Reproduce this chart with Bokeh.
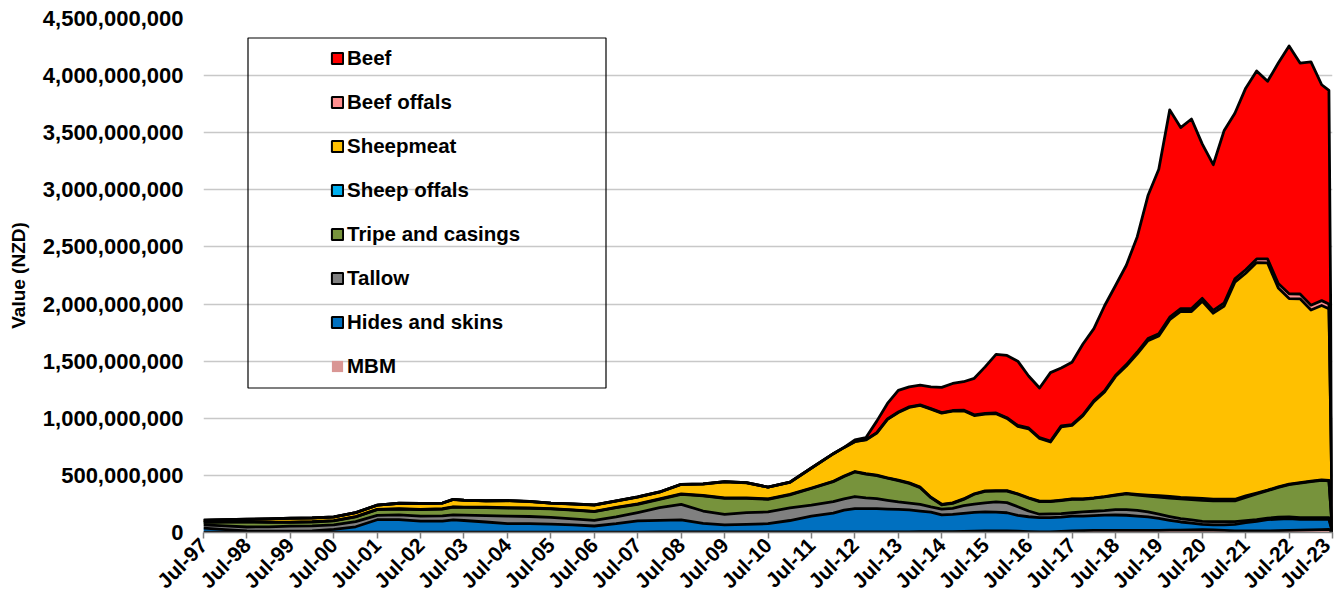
import math
import datetime as dt
import pandas as pd
from bokeh.plotting import figure
from bokeh.models import (ColumnDataSource, Range1d, FixedTicker, DatetimeTickFormatter,
                          NumeralTickFormatter, SingleIntervalTicker, Legend, LegendItem, BoxAnnotation)
from bokeh.embed import file_html
from bokeh.resources import INLINE

# ---------------- data (values in NZD millions) ----------------
dates = [
    "1997-07", "1998-01", "1998-07", "1999-01", "1999-07", "2000-01", "2000-07", "2001-01",
    "2001-07", "2002-01", "2002-07", "2003-01", "2003-04", "2003-07", "2004-01", "2004-07",
    "2005-01", "2005-07", "2006-01", "2006-07", "2007-01", "2007-07", "2008-01", "2008-07",
    "2009-01", "2009-07", "2010-01", "2010-07", "2011-01", "2011-07", "2012-01",
    "2012-04", "2012-07", "2012-10",
    "2013-01", "2013-04", "2013-07", "2013-10",
    "2014-01", "2014-04", "2014-07", "2014-10",
    "2015-01", "2015-04", "2015-07", "2015-10",
    "2016-01", "2016-04", "2016-07", "2016-10",
    "2017-01", "2017-04", "2017-07", "2017-10",
    "2018-01", "2018-04", "2018-07", "2018-10",
    "2019-01", "2019-04", "2019-07", "2019-10",
    "2020-01", "2020-04", "2020-07", "2020-10",
    "2021-01", "2021-04", "2021-07", "2021-10",
    "2022-01", "2022-04", "2022-07", "2022-10",
    "2023-01", "2023-04", "2023-06", "2023-07",
]

mbm = [3, 3, 3, 3, 3, 3, 3, 3, 4, 4, 4, 4, 4, 4, 4, 4, 4, 4, 4, 4, 4, 4, 5, 5, 5, 5, 5, 5, 5, 5, 5,
       5, 5, 5, 5, 5, 6, 6, 7, 7, 7, 8, 10, 12, 14, 14, 14, 12, 8, 5, 5, 10, 15, 17, 18, 18, 18, 18,
       18, 19, 19, 20, 21, 22, 24, 22, 18, 15, 13, 13, 14, 16, 18, 20, 23, 26, 28, 0]

hides = [35, 22, 10, 9, 9, 12, 25, 47, 108, 108, 96, 96, 106, 101, 88, 73, 73, 70, 62, 53, 73, 97,
         102, 105, 75, 61, 67, 72, 100, 138, 165,
         190, 204, 204, 204, 200, 197, 192, 181, 171, 148, 150, 158, 164, 166, 164, 159, 138, 130,
         125, 125, 125, 129, 127, 129, 134, 135, 133, 126, 117, 105, 87, 71, 61, 48, 44, 48, 57,
         73, 85, 98, 102, 103, 95, 92, 89, 87, 0]

tallow = [28, 33, 35, 38, 43, 43, 38, 45, 38, 43, 44, 45, 45, 47, 56, 67, 63, 59, 54, 50, 59, 73,
          110, 137, 108, 93, 102, 103, 110, 97, 100,
          100, 106, 94, 88, 77, 65, 60, 59, 47, 50, 54, 67, 72, 80, 90, 89, 76, 50, 30, 33, 31, 29,
          36, 39, 40, 48, 49, 50, 44, 36, 33, 30, 27, 26, 29, 29, 23, 18, 14, 13, 16, 15, 15, 15,
          15, 15, 0]

tripe = [22, 32, 44, 38, 33, 34, 35, 41, 50, 50, 56, 60, 67, 68, 70, 70, 72, 73, 75, 75, 81, 73,
         74, 87, 132, 140, 125, 111, 115, 145, 175,
         195, 215, 209, 201, 193, 187, 172, 146, 80, 38, 43, 55, 87, 100, 95, 101, 109, 112, 110,
         107, 114, 118, 111, 114, 119, 124, 138, 134, 138, 150, 161, 172, 179, 184, 183, 181, 182,
         204, 226, 241, 261, 284, 303, 315, 327, 322, 0]

sheep_offals = [3, 3, 3, 3, 3, 3, 3, 3, 3, 3, 3, 3, 3, 3, 3, 3, 3, 3, 3, 3, 3, 3, 4, 4, 4, 4, 4, 4,
                4, 4, 4,
                4, 4, 4, 4, 4, 4, 4, 4, 4, 4, 4, 4, 4, 4, 4, 4, 4, 4, 4, 4, 4, 4, 4, 4, 4, 4, 4,
                6, 10, 12, 14, 14, 15, 16, 15, 15, 14, 12, 8, 5, 4, 4, 4, 4, 4, 4, 0]

sheepmeat = [16, 18, 20, 28, 33, 32, 31, 34, 36, 47, 50, 49, 64, 59, 56, 62, 56, 48, 51, 55, 55,
             60, 59, 83, 100, 141, 132, 102, 105, 175, 240,
             249, 261, 294, 368, 511, 591, 661, 715, 771, 798, 803, 772, 685, 672, 674, 632, 591,
             604, 549, 518, 641, 642, 727, 841, 915, 1036, 1116, 1231, 1352, 1398, 1548, 1627,
             1631, 1727, 1627, 1692, 1901, 1950, 2017, 1989, 1741, 1624, 1609, 1499, 1527, 1502, 0]

beef_offals = [1, 1, 1, 1, 1, 1, 1, 1, 1, 1, 1, 1, 1, 1, 1, 1, 1, 1, 1, 1, 1, 1, 1, 1, 1, 1, 1, 1,
               1, 1, 1,
               2, 2, 3, 4, 4, 5, 5, 5, 5, 5, 6, 6, 6, 6, 6, 6, 7, 7, 7, 8, 8, 8, 8, 10, 10, 10, 12,
               15, 18, 20, 22, 25, 25, 25, 25, 27, 28, 30, 32, 35, 40, 42, 42, 42, 42, 42, 0]

beef = [0, 0, 0, 0, 0, 0, 0, 0, 0, 0, 0, 0, 0, 0, 0, 0, 0, 0, 0, 0, 0, 0, 0, 0, 0, 0, 0, 0, 0, 0, 0,
        0, 13, 17, 101, 136, 190, 175, 173, 190, 220, 237, 248, 320, 408, 513, 545, 563, 455, 435,
        600, 507, 545, 620, 630, 745, 785, 870, 1010, 1252, 1440, 1815, 1585, 1660, 1350, 1275,
        1510, 1450, 1590, 1645, 1555, 1930, 2170, 2022, 2130, 1890, 1870, 0]

series_names = ["MBM", "Hides and skins", "Tallow", "Tripe and casings",
                "Sheep offals", "Sheepmeat", "Beef offals", "Beef"]
series_values = [mbm, hides, tallow, tripe, sheep_offals, sheepmeat, beef_offals, beef]
colors = ["#D99694", "#0070C0", "#808080", "#77933C", "#00B0F0", "#FFC000", "#FF8F8F", "#FF0000"]
outlined = [False, True, True, True, True, True, True, True]
tick_years = list(range(1997, 2024))

# ---------------- build ----------------
keys = ["s%d" % i for i in range(len(series_names))]
data = {"date": pd.to_datetime(dates, format="%Y-%m")}
for k, vals in zip(keys, series_values):
    data[k] = [v * 1e6 for v in vals]
source = ColumnDataSource(data)

FONT = "Liberation Sans"

p = figure(width=1334, height=603, x_axis_type="datetime",
           x_range=Range1d(dt.datetime(1997, 7, 1), dt.datetime(2023, 7, 1)),
           y_range=Range1d(0, 4.5e9),
           output_backend="svg", toolbar_location=None,
           min_border_left=203, min_border_right=2, min_border_top=18, min_border_bottom=71)

p.varea_stack(stackers=keys, x="date", source=source, color=colors)
p.vline_stack(stackers=keys, x="date", source=source, line_color="black",
              line_width=2.8, line_join="round")

# axes
ticks = [dt.datetime(y, 7, 1).timestamp() * 1000 for y in tick_years]
p.xaxis.ticker = FixedTicker(ticks=ticks)
p.xaxis.formatter = DatetimeTickFormatter(years="%b-%y", months="%b-%y", days="%b-%y",
                                          hours="%b-%y", minutes="%b-%y", seconds="%b-%y",
                                          milliseconds="%b-%y", microseconds="%b-%y",
                                          hourmin="%b-%y", minsec="%b-%y", context=None)
p.xaxis.major_label_orientation = math.pi / 4
p.xaxis.major_label_text_font = FONT
p.xaxis.major_label_text_font_style = "bold"
p.xaxis.major_label_text_font_size = "21px"
p.xaxis.major_label_text_color = "black"
p.xaxis.axis_line_color = "#7f7f7f"
p.xaxis.axis_line_width = 1.5
p.xaxis.major_tick_line_color = "#7f7f7f"
p.xaxis.major_tick_line_width = 1.5
p.xaxis.major_tick_out = 6
p.xaxis.major_tick_in = 0
p.xaxis.minor_tick_line_color = None
p.xaxis.major_label_standoff = 3

p.yaxis.ticker = SingleIntervalTicker(interval=5e8)
p.yaxis.formatter = NumeralTickFormatter(format="0,0")
p.yaxis.major_label_text_font = FONT
p.yaxis.major_label_text_font_style = "bold"
p.yaxis.major_label_text_font_size = "22px"
p.yaxis.major_label_text_color = "black"
p.yaxis.axis_line_color = None
p.yaxis.major_tick_line_color = None
p.yaxis.minor_tick_line_color = None
p.yaxis.major_tick_out = 0
p.yaxis.major_tick_in = 0
p.yaxis.minor_tick_out = 0
p.yaxis.minor_tick_in = 0
p.yaxis.major_label_standoff = 20
p.yaxis.axis_label = "Value (NZD)"
p.yaxis.axis_label_text_font = FONT
p.yaxis.axis_label_text_font_style = "bold"
p.yaxis.axis_label_text_font_size = "19px"
p.yaxis.axis_label_text_color = "black"
p.yaxis.axis_label_standoff = 11

p.xgrid.visible = False
p.ygrid.grid_line_color = "#c8c8c8"
p.ygrid.grid_line_width = 1.5
p.outline_line_color = None

# legend (proxy glyphs with no visible data, only used for the legend swatches)
nan = float("nan")
items = []
for name, col, ol in reversed(list(zip(series_names, colors, outlined))):
    r = p.quad(left=[nan], right=[nan], top=[nan], bottom=[nan], fill_color=col,
               line_color="black" if ol else None, line_width=2)
    items.append(LegendItem(label=name, renderers=[r], index=0))
legend = Legend(items=items, location=(127, 154), glyph_width=14, glyph_height=14,
                label_height=24, spacing=20, padding=9, margin=0, label_standoff=3,
                border_line_color=None, background_fill_alpha=0,
                label_text_font=FONT, label_text_font_style="bold", label_text_font_size="20.5px",
                label_text_color="black")
p.add_layout(legend)

box = BoxAnnotation(left=247.5, right=605.5, top=37.5, bottom=387.5,
                    left_units="canvas", right_units="canvas", top_units="canvas", bottom_units="canvas",
                    fill_color=None, fill_alpha=0, line_color="black", line_alpha=1.0, line_width=1.2)
p.add_layout(box)

open("out.html", "w").write(file_html(p, INLINE))
